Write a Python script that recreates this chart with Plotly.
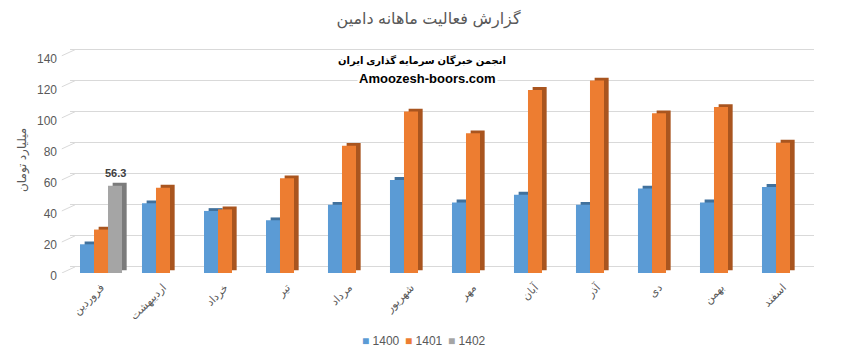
import plotly.graph_objects as go

# ---- data ----
months = ["فروردین", "اردیبهشت", "خرداد", "تیر", "مرداد", "شهریور",
          "مهر", "آبان", "آذر", "دی", "بهمن", "اسفند"]
v1400 = [18.5, 45, 40, 34, 44, 60, 45.5, 50.5, 44, 54.5, 45.5, 55.5]
v1401 = [28, 55, 41, 61, 82, 104, 90, 118, 124, 103, 107, 84]
v1402 = [56.3, None, None, None, None, None, None, None, None, None, None, None]
series_names = ["1400", "1401", "1402"]
y_ticks = [0, 20, 40, 60, 80, 100, 120, 140]

# ---- styles ----
FONT = "Liberation Sans, DejaVu Sans, sans-serif"
GREY_TXT = "#595959"
GRID = "#D9D9D9"
front_colors = ["#5B9BD5", "#ED7D31", "#A5A5A5"]
side_colors = ["#41719C", "#A9551F", "#7B7B7B"]
SLOT = 0.226          # width of one bar in category units
START = -0.339        # offset of first bar from category centre
DX = 0.075            # 3D depth (x, category units)
DY = 1.8              # 3D depth (y, value units)
WALL = 3.9            # back-wall offset (value units)
PL, PW, PB, PH = 70, 744, 273, 225   # plot area geometry in px (for paper coords)

def px_x(px):
    return (px - PL) / PW

def px_y(py):
    return (PB - py) / PH

fig = go.Figure()
# invisible trace that keeps the back-wall grid axis alive
fig.add_trace(go.Scatter(x=[months[0]], y=[0], mode="markers",
                         marker=dict(opacity=0), showlegend=False,
                         hoverinfo="skip", yaxis="y"))

all_values = [v1400, v1401, v1402]
for i, (name, vals) in enumerate(zip(series_names, all_values)):
    off = START + i * SLOT
    # extruded side / top face
    fig.add_trace(go.Bar(
        x=months, y=vals, base=DY, offset=off + DX, width=SLOT,
        marker=dict(color=side_colors[i], line=dict(width=0)),
        showlegend=False, hoverinfo="skip", yaxis="y2", name=name + "_side"))
    # front face
    fig.add_trace(go.Bar(
        x=months, y=vals, offset=off, width=SLOT, name=name,
        marker=dict(color=front_colors[i], line=dict(width=0)),
        showlegend=False, yaxis="y2"))

# compact legend (square swatch + label), one entry per series
for i, name in enumerate(series_names):
    fig.add_annotation(
        text=f"<span style='color:{front_colors[i]}'>■</span> {name}",
        xref="paper", yref="paper", x=px_x(360 + 43 * i), y=px_y(341),
        xanchor="left", yanchor="middle", showarrow=False,
        font=dict(family=FONT, size=12, color=GREY_TXT))

# data label for 1402
for m, v in zip(months, v1402):
    if v is not None:
        fig.add_annotation(x=m, y=v + DY, xref="x", yref="y2", text=f"<b>{v}</b>",
                           showarrow=False, xshift=14, yshift=10,
                           font=dict(family=FONT, size=11, color="#404040"))

# side-wall diagonal grid segments
for t in y_ticks:
    fig.add_shape(type="line", xref="paper", yref="y2",
                  x0=-0.011, x1=0.0067, y0=t, y1=t + WALL,
                  line=dict(color=GRID, width=1), layer="below")

fig.update_layout(
    width=857, height=356,
    margin=dict(l=PL, r=857 - PL - PW, t=PB - PH, b=356 - PB),
    paper_bgcolor="white", plot_bgcolor="white",
    barmode="overlay", showlegend=False,
    font=dict(family=FONT, color=GREY_TXT, size=12),
    title=dict(text="گزارش فعالیت ماهانه دامین", x=0.5, xanchor="center",
               y=1 - 18 / 356, yanchor="middle", yref="container",
               font=dict(family=FONT, size=16, color=GREY_TXT)),
    xaxis=dict(type="category", range=[-0.5, 11.5], showgrid=False, showline=False,
               zeroline=False, tickangle=-45, ticks="", ticklabelstandoff=5,
               automargin=False,
               tickfont=dict(family=FONT, size=11, color=GREY_TXT)),
    yaxis=dict(range=[-WALL, 145 - WALL], tickvals=y_ticks, showticklabels=False,
               showgrid=True, gridcolor=GRID, gridwidth=1, zeroline=False,
               showline=False, automargin=False),
    yaxis2=dict(range=[0, 145], overlaying="y", side="left", tickvals=y_ticks,
                showgrid=False, zeroline=False, showline=False, ticks="",
                ticklabelstandoff=12, ticklabelshift=3, automargin=False,
                tickfont=dict(family=FONT, size=12, color=GREY_TXT)),
    hovermode=False,
)

fig.add_annotation(text="میلیارد تومان", xref="paper", yref="paper",
                   x=px_x(22), y=px_y(160), xanchor="center", yanchor="middle",
                   textangle=-90, showarrow=False,
                   font=dict(family=FONT, size=12, color=GREY_TXT))
fig.add_annotation(text="<b>انجمن خبرگان سرمایه گذاری ایران</b>", xref="paper", yref="paper",
                   x=px_x(422), y=px_y(60), xanchor="center", yanchor="middle",
                   showarrow=False, bgcolor="white",
                   font=dict(family=FONT, size=10, color="black"))
fig.add_annotation(text="<b>Amoozesh-boors.com</b>", xref="paper", yref="paper",
                   x=px_x(427), y=px_y(78), xanchor="center", yanchor="middle",
                   showarrow=False, bgcolor="white",
                   font=dict(family=FONT, size=13, color="black"))

fig.write_html("out.html", config={"displayModeBar": False},
               post_script="document.body.style.margin='0px';")
